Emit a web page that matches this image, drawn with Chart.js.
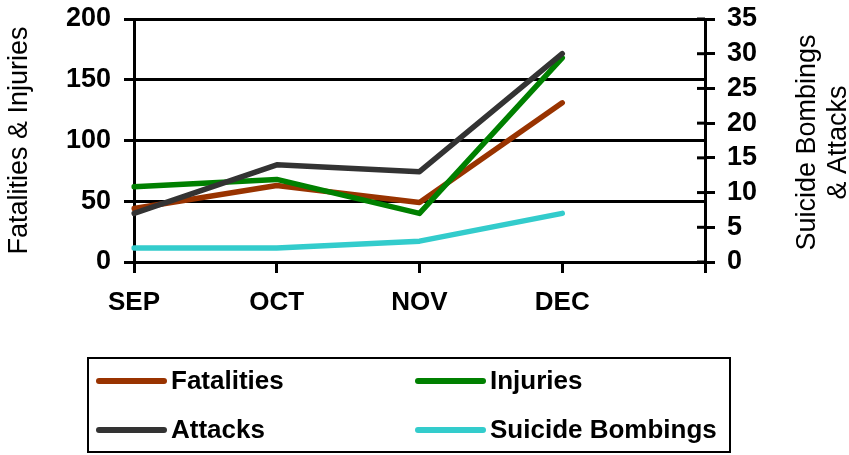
<!DOCTYPE html>
<html>
<head>
<meta charset="utf-8">
<script src="https://cdn.jsdelivr.net/npm/chart.js@4/dist/chart.umd.min.js"></script>
<style>
  html, body { margin: 0; padding: 0; background: #fff; }
  #wrap { width: 849px; height: 455px; position: relative; }
</style>
</head>
<body>
<div id="wrap"><canvas id="chart" width="849" height="455"></canvas></div>
<script>
'use strict';

// ── Data ────────────────────────────────────────────────────────
const MONTHS = ['SEP', 'OCT', 'NOV', 'DEC', ''];
const FATALITIES = [44, 63, 49, 131];
const INJURIES = [62, 68, 40, 168];
const ATTACKS = [7, 14, 13, 30];
const SUICIDE_BOMBINGS = [2, 2, 3, 7];
const LEFT_TICKS = [0, 50, 100, 150, 200];
const RIGHT_TICKS = [0, 5, 10, 15, 20, 25, 30, 35];

// ── Theme ───────────────────────────────────────────────────────
const COLORS = {
  fatalities: '#993300',
  injuries:   '#008000',
  attacks:    '#333333',
  suicide:    '#33cccc',
  axis:       '#000000'
};
const FONT = '"Liberation Sans", Arial, sans-serif';

// ── Custom titles, inner tick marks + boxed legend ──────────────
const decorPlugin = {
  id: 'decor',
  afterDraw(chart) {
    const ctx = chart.ctx;
    const area = chart.chartArea;
    const midY = (area.top + area.bottom) / 2;
    ctx.save();

    // right axis ticks cross the axis line
    const y1 = chart.scales.y1;
    ctx.strokeStyle = COLORS.axis;
    ctx.lineWidth = 3;
    y1.ticks.forEach(t => {
      const py = y1.getPixelForValue(t.value);
      ctx.beginPath();
      ctx.moveTo(area.right - 8, py);
      ctx.lineTo(area.right, py);
      ctx.stroke();
    });

    ctx.fillStyle = '#000';
    ctx.font = '27px ' + FONT;
    ctx.textAlign = 'center';
    ctx.textBaseline = 'middle';

    // left axis title
    ctx.save();
    ctx.translate(20, midY);
    ctx.rotate(-Math.PI / 2);
    ctx.fillText('Fatalities & Injuries', 0, 0);
    ctx.restore();

    // right axis title (two lines)
    ctx.save();
    ctx.translate(808, midY + 2);
    ctx.rotate(-Math.PI / 2);
    ctx.fillText('Suicide Bombings', 0, 0);
    ctx.fillText('& Attacks', 0, 31);
    ctx.restore();

    // legend box
    ctx.strokeStyle = '#000';
    ctx.lineWidth = 2;
    ctx.strokeRect(88, 358, 642, 94);

    const slots = [[99, 381], [418, 381], [99, 430], [418, 430]];
    ctx.font = 'bold 26px ' + FONT;
    ctx.textAlign = 'left';
    chart.data.datasets.forEach((ds, i) => {
      const [x, y] = slots[i];
      ctx.strokeStyle = ds.borderColor;
      ctx.lineWidth = 6;
      ctx.lineCap = 'round';
      ctx.beginPath();
      ctx.moveTo(x, y);
      ctx.lineTo(x + 65, y);
      ctx.stroke();
      ctx.fillStyle = '#000';
      ctx.fillText(ds.label, x + 72, y + 1);
    });
    ctx.restore();
  }
};

// ── Chart ───────────────────────────────────────────────────────
function series(label, data, color, axis, order) {
  return {
    label: label,
    data: data,
    borderColor: color,
    backgroundColor: color,
    borderWidth: 5.5,
    borderCapStyle: 'round',
    borderJoinStyle: 'round',
    pointRadius: 0,
    tension: 0,
    yAxisID: axis,
    order: order
  };
}

function fixVertical(width) {
  return s => {
    s.width = width;
    s.paddingTop = 0;
    s.paddingBottom = 0;
  };
}

new Chart(document.getElementById('chart'), {
  type: 'line',
  data: {
    labels: MONTHS,
    datasets: [
      series('Fatalities', FATALITIES, COLORS.fatalities, 'y', 3),
      series('Injuries', INJURIES, COLORS.injuries, 'y', 2),
      series('Attacks', ATTACKS, COLORS.attacks, 'y1', 1),
      series('Suicide Bombings', SUICIDE_BOMBINGS, COLORS.suicide, 'y1', 4)
    ]
  },
  options: {
    responsive: false,
    animation: false,
    layout: { padding: { top: 19, left: 0, right: 0, bottom: 0 } },
    plugins: { legend: { display: false }, tooltip: { enabled: false } },
    scales: {
      x: {
        type: 'category',
        offset: false,
        afterFit: s => { s.height = 193; s.paddingLeft = 0; s.paddingRight = 0; },
        grid: { drawOnChartArea: false, color: COLORS.axis, lineWidth: 3, tickLength: 11 },
        border: { color: COLORS.axis, width: 3 },
        ticks: {
          color: '#000', padding: 14, maxRotation: 0, autoSkip: false,
          font: { family: FONT, size: 26, weight: 'bold' }
        }
      },
      y: {
        position: 'left',
        min: 0, max: 200,
        afterFit: fixVertical(134),
        afterBuildTicks: s => { s.ticks = LEFT_TICKS.map(v => ({ value: v })); },
        grid: { color: COLORS.axis, lineWidth: 3, tickLength: 10 },
        border: { color: COLORS.axis, width: 3 },
        ticks: { color: '#000', padding: 13, autoSkip: false, font: { family: FONT, size: 27, weight: 'bold' } }
      },
      y1: {
        position: 'right',
        min: 0, max: 35,
        afterFit: fixVertical(144),
        afterBuildTicks: s => { s.ticks = RIGHT_TICKS.map(v => ({ value: v })); },
        grid: { drawOnChartArea: false, color: COLORS.axis, lineWidth: 3, tickLength: 10 },
        border: { color: COLORS.axis, width: 3 },
        ticks: { color: '#000', padding: 12, autoSkip: false, font: { family: FONT, size: 27, weight: 'bold' } }
      }
    }
  },
  plugins: [decorPlugin]
});
</script>
</body>
</html>
